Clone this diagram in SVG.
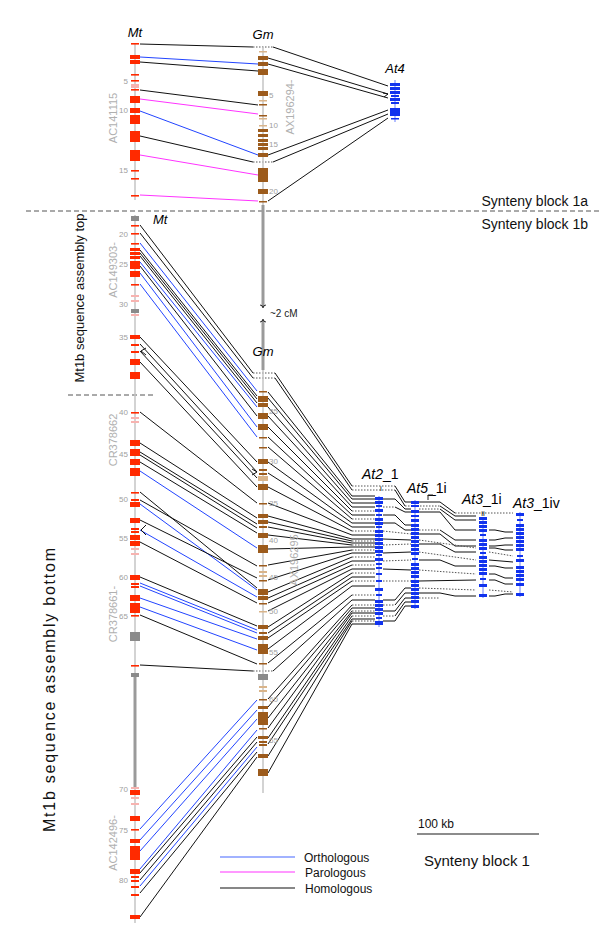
<svg xmlns="http://www.w3.org/2000/svg" width="600" height="946" viewBox="0 0 600 946">
<style>
text{font-family:"Liberation Sans",Arial,sans-serif}
.ax{stroke:#c4c4c4;stroke-width:1.5;fill:none}
.gap{stroke:#9a9a9a;stroke-width:3;fill:none}
.m{fill:#ff2a00}.mp{fill:#f7b3b0}.mg{fill:#8a8a8a}
.g{fill:#9c5b1c}.gp{fill:#d9b48a}
.a{fill:#1133ee}
.o{stroke:#2244ff;stroke-width:1;fill:none}
.p{stroke:#ff33ff;stroke-width:1;fill:none}
.h{stroke:#111;stroke-width:1;fill:none}
.d{stroke:#555;stroke-width:1;stroke-dasharray:1.5,1.5;fill:none}
.lab{font-size:13px;font-style:italic}
.atl{font-size:14px;font-style:italic}
.num{font-size:8px;fill:#a0a0a0}
.cl{font-size:11px;fill:#b0b0b0}
.big{font-size:14px;fill:#111}
.leg{font-size:12px;fill:#111}
</style>

<g id="dividers">
<line x1="26" y1="211" x2="600" y2="211" stroke="#555" stroke-dasharray="5,3"/>
<line x1="68" y1="395" x2="153" y2="395" stroke="#555" stroke-dasharray="5,3"/>
<text x="588" y="206" class="big" text-anchor="end">Synteny block 1a</text>
<text x="588" y="229" class="big" text-anchor="end">Synteny block 1b</text>
<text transform="translate(84,298) rotate(-90)" class="big" text-anchor="middle" style="font-size:13px">Mt1b sequence assembly top</text>
<text transform="translate(55,690) rotate(-90)" class="big" text-anchor="middle" style="font-size:16px" textLength="284" lengthAdjust="spacing">Mt1b sequence assembly bottom</text>
</g>

<g id="connectors">
<!-- block 1a Mt-Gm -->
<line class="h" x1="140" y1="44" x2="253" y2="47"/>
<line class="d" x1="253" y1="47" x2="273" y2="47"/>
<line class="o" x1="140" y1="57" x2="258" y2="64"/>
<line class="h" x1="140" y1="62" x2="258" y2="71"/>
<line class="h" x1="140" y1="90" x2="258" y2="105"/>
<line class="p" x1="140" y1="99" x2="258" y2="114"/>
<line class="o" x1="140" y1="111" x2="258" y2="155"/>
<line class="h" x1="140" y1="136" x2="253" y2="162"/>
<line class="d" x1="253" y1="162" x2="273" y2="162"/>
<line class="p" x1="140" y1="155" x2="258" y2="175"/>
<line class="p" x1="140" y1="195" x2="258" y2="201"/>
<!-- Gm-At4 -->
<line class="h" x1="273" y1="47" x2="388" y2="86"/>
<line class="h" x1="268" y1="58" x2="388" y2="94"/>
<line class="h" x1="268" y1="64" x2="388" y2="98"/>
<polyline class="h" points="383,93 388,94 384,97"/>
<line class="h" x1="268" y1="155" x2="388" y2="110"/>
<line class="h" x1="273" y1="162" x2="388" y2="114"/>
<line class="h" x1="268" y1="201" x2="388" y2="118"/>
<!-- block 1b Mt-Gm top -->
<line class="h" x1="140" y1="225" x2="253" y2="373"/>
<line class="h" x1="140" y1="233" x2="253" y2="378"/>
<line class="d" x1="253" y1="373" x2="275" y2="373"/>
<line class="d" x1="253" y1="378" x2="275" y2="378"/>
<line class="o" x1="140" y1="243" x2="257" y2="391"/>
<line class="h" x1="140" y1="250" x2="257" y2="396"/>
<line class="h" x1="140" y1="253" x2="257" y2="399"/>
<line class="h" x1="140" y1="256" x2="257" y2="403"/>
<line class="o" x1="140" y1="262" x2="257" y2="407"/>
<line class="h" x1="140" y1="266" x2="257" y2="416"/>
<line class="o" x1="140" y1="273" x2="257" y2="427"/>
<line class="o" x1="140" y1="284" x2="257" y2="437"/>
<line class="h" x1="140" y1="337" x2="257" y2="462"/>
<line class="h" x1="140" y1="344" x2="257" y2="472"/>
<polyline class="h" points="252,469 257,472 252,475"/>
<line class="h" x1="140" y1="351" x2="257" y2="478"/>
<polyline class="h" points="146,348 141,351 146,355"/>
<line class="h" x1="140" y1="362" x2="257" y2="487"/>
<!-- CR378662 / CR378661 -->
<line class="h" x1="140" y1="412" x2="257" y2="503"/>
<line class="h" x1="140" y1="443" x2="257" y2="518"/>
<line class="h" x1="140" y1="452" x2="257" y2="524"/>
<line class="h" x1="140" y1="455" x2="257" y2="528"/>
<line class="h" x1="140" y1="462" x2="257" y2="533"/>
<line class="o" x1="140" y1="471" x2="257" y2="548"/>
<line class="h" x1="140" y1="492" x2="257" y2="588"/>
<line class="h" x1="140" y1="500" x2="257" y2="566"/>
<line class="o" x1="140" y1="504" x2="257" y2="590"/>
<line class="h" x1="140" y1="520" x2="257" y2="578"/>
<line class="o" x1="140" y1="530" x2="257" y2="597"/>
<polyline class="h" points="146,525 141,530 146,535"/>
<line class="h" x1="140" y1="542" x2="257" y2="603"/>
<line class="h" x1="140" y1="577" x2="257" y2="626"/>
<line class="o" x1="140" y1="583" x2="257" y2="630"/>
<line class="o" x1="140" y1="586" x2="257" y2="633"/>
<line class="o" x1="140" y1="598" x2="257" y2="639"/>
<line class="o" x1="140" y1="607" x2="257" y2="650"/>
<line class="h" x1="140" y1="615" x2="257" y2="664"/>
<line class="h" x1="140" y1="665" x2="253" y2="671"/>
<line class="d" x1="253" y1="671" x2="273" y2="671"/>
<!-- AC142496 -->
<line class="o" x1="140" y1="829" x2="257" y2="700"/>
<line class="o" x1="140" y1="840" x2="257" y2="710"/>
<line class="o" x1="140" y1="851" x2="257" y2="719"/>
<line class="o" x1="140" y1="869" x2="257" y2="730"/>
<line class="h" x1="140" y1="873" x2="257" y2="737"/>
<line class="h" x1="140" y1="880" x2="257" y2="742"/>
<line class="o" x1="140" y1="886" x2="257" y2="747"/>
<line class="h" x1="140" y1="893" x2="257" y2="752"/>
<line class="h" x1="140" y1="917" x2="257" y2="757"/>
<!-- Gm - At2 -->
<polyline class="h" points="275,373 352,486"/><line class="d" x1="352" y1="486" x2="395" y2="486"/>
<polyline class="h" points="275,378 352,490"/><line class="d" x1="352" y1="490" x2="395" y2="490"/>
<polyline class="h" points="268,392 352,496 375,496"/>
<polyline class="h" points="268,398 352,499 375,499"/>
<polyline class="h" points="268,407 352,503 375,503"/>
<polyline class="h" points="268,416 352,507 375,507"/>
<polyline class="h" points="268,427 352,511"/><line class="d" x1="352" y1="511" x2="375" y2="511"/>
<polyline class="h" points="268,437 352,515 375,515"/>
<polyline class="h" points="268,447 352,519"/><line class="d" x1="352" y1="519" x2="375" y2="519"/>
<polyline class="h" points="268,462 352,523 375,523"/>
<polyline class="h" points="268,473 352,527 375,527"/>
<polyline class="h" points="268,487 352,531"/><line class="d" x1="352" y1="531" x2="375" y2="531"/>
<polyline class="h" points="268,503 352,535 375,535"/>
<polyline class="h" points="268,516 352,539 375,539"/>
<polyline class="h" points="268,522 352,541"/><line class="d" x1="352" y1="541" x2="375" y2="541"/>
<polyline class="h" points="268,527 352,543 375,543"/>
<polyline class="h" points="268,535 352,545"/><line class="d" x1="352" y1="545" x2="375" y2="545"/>
<polyline class="h" points="268,549 352,547 375,547"/>
<polyline class="h" points="268,565 352,550"/><line class="d" x1="352" y1="550" x2="375" y2="550"/>
<polyline class="h" points="268,580 352,553 375,553"/>
<polyline class="h" points="268,592 352,557"/><line class="d" x1="352" y1="557" x2="375" y2="557"/>
<polyline class="h" points="268,598 352,561 375,561"/>
<polyline class="h" points="268,603 352,565"/><line class="d" x1="352" y1="565" x2="375" y2="565"/>
<polyline class="h" points="268,611 352,569 375,569"/>
<polyline class="h" points="268,627 352,573"/><line class="d" x1="352" y1="573" x2="375" y2="573"/>
<polyline class="h" points="268,633 352,577 375,577"/>
<polyline class="h" points="268,638 352,581"/><line class="d" x1="352" y1="581" x2="375" y2="581"/>
<polyline class="h" points="268,649 352,586 375,586"/>
<polyline class="h" points="268,663 352,595"/><line class="d" x1="352" y1="595" x2="375" y2="595"/>
<polyline class="h" points="273,671 352,600 375,600"/>
<polyline class="h" points="268,699 352,605"/><line class="d" x1="352" y1="605" x2="375" y2="605"/>
<polyline class="h" points="268,707 352,608 375,608"/>
<polyline class="h" points="268,718 352,611"/><line class="d" x1="352" y1="611" x2="375" y2="611"/>
<polyline class="h" points="268,728 352,613 375,613"/>
<polyline class="h" points="268,738 352,616"/><line class="d" x1="352" y1="616" x2="375" y2="616"/>
<polyline class="h" points="268,744 352,619 375,619"/>
<polyline class="h" points="268,756 352,621"/><line class="d" x1="352" y1="621" x2="375" y2="621"/>
<polyline class="h" points="268,773 352,624 375,624"/>
<!-- ladders At2 -> At5 -> At3_1i -> At3_1iv -->
<polyline class="h" points="395,486 405,502 440,502 455,513"/><line class="d" x1="455" y1="513" x2="513" y2="513"/>
<polyline class="h" points="395,490 405,506"/><line class="d" x1="405" y1="506" x2="440" y2="506"/><polyline class="h" points="440,506 455,516 476,516"/>
<polyline class="h" points="383,499 395,499 405,509 411,509"/><line class="d" x1="419" y1="509" x2="440" y2="509"/><polyline class="h" points="440,509 455,520 476,520"/>
<line class="d" x1="383" y1="507" x2="395" y2="507"/><polyline class="h" points="395,507 405,512 411,512"/><polyline class="h" points="419,512 440,512 455,530 476,530"/><polyline class="h" points="489,530 495,530 505,532 513,532"/>
<polyline class="h" points="383,515 395,515 405,525 411,525"/>
<polyline class="h" points="383,523 395,523 405,530 411,530"/><line class="d" x1="419" y1="530" x2="440" y2="530"/><polyline class="h" points="440,530 455,540 476,540"/><polyline class="h" points="489,540 495,540 505,538 513,538"/>
<line class="d" x1="383" y1="531" x2="411" y2="534"/><polyline class="h" points="419,534 440,534 455,546 476,546"/><polyline class="h" points="489,546 495,546 505,545 513,545"/>
<polyline class="h" points="383,539 411,540"/><line class="d" x1="419" y1="540" x2="476" y2="548"/><polyline class="h" points="489,548 495,548 505,550 513,550"/>
<line class="d" x1="383" y1="545" x2="411" y2="544"/><polyline class="h" points="419,544 440,544 455,552 476,552"/><line class="d" x1="489" y1="552" x2="513" y2="556"/>
<polyline class="h" points="383,553 411,552"/><line class="d" x1="419" y1="552" x2="476" y2="560"/><polyline class="h" points="489,560 513,562"/>
<line class="d" x1="383" y1="561" x2="411" y2="560"/><polyline class="h" points="419,560 440,560 455,566 476,566"/><polyline class="h" points="489,566 495,566 505,568 513,568"/>
<polyline class="h" points="383,569 411,570"/><line class="d" x1="419" y1="570" x2="476" y2="574"/><polyline class="h" points="489,574 495,574 505,578 513,578"/>
<line class="d" x1="383" y1="581" x2="411" y2="581"/><polyline class="h" points="419,581 476,580"/><polyline class="h" points="489,580 495,580 505,584 513,584"/>
<polyline class="h" points="383,600 395,600 405,588 411,588"/><line class="d" x1="419" y1="588" x2="476" y2="590"/><line class="d" x1="489" y1="590" x2="513" y2="592"/>
<line class="d" x1="383" y1="605" x2="395" y2="605"/><polyline class="h" points="395,605 405,593 411,593"/><polyline class="h" points="419,593 440,593 455,596 476,596"/><polyline class="h" points="489,596 495,596 505,594 513,594"/>
<polyline class="h" points="383,611 395,611 405,598 411,598"/><line class="d" x1="419" y1="598" x2="440" y2="598"/>
<line class="d" x1="383" y1="616" x2="395" y2="616"/><polyline class="h" points="395,616 405,602 411,602"/>
<polyline class="h" points="383,621 395,621 405,606 411,606"/>
</g>

<g id="Mt">
<line class="ax" x1="135" y1="44" x2="135" y2="200"/>
<line class="ax" x1="135" y1="215" x2="135" y2="923"/>
<line class="gap" x1="135" y1="677" x2="135" y2="787"/>
<text x="135" y="37" class="lab" text-anchor="middle">Mt</text>
<text x="153" y="224" class="lab" text-anchor="start">Mt</text>
<g class="m">
<rect x="131" y="43" width="8" height="1.6"/><rect x="130" y="55" width="10" height="4"/><rect x="130" y="60" width="10" height="4"/>
<rect x="131" y="74" width="8" height="1.6"/><rect x="131" y="80" width="8" height="1.6"/><rect x="131" y="89" width="8" height="1.6"/>
<rect x="130" y="96" width="10" height="4"/><rect x="130" y="100" width="10" height="3"/><rect x="130" y="108" width="10" height="5"/>
<rect x="130" y="115" width="10" height="9"/><rect x="130" y="131" width="10" height="11"/><rect x="130" y="150" width="10" height="11"/>
<rect x="131" y="170" width="8" height="1.6"/><rect x="131" y="178" width="8" height="1.6"/><rect x="131" y="195" width="8" height="1.6"/>
<rect x="131" y="225" width="8" height="1.6"/><rect x="131" y="233" width="8" height="1.6"/><rect x="131" y="243" width="8" height="1.6"/>
<rect x="130" y="248" width="10" height="3"/><rect x="130" y="252" width="10" height="3"/><rect x="130" y="256" width="10" height="3"/>
<rect x="130" y="261" width="10" height="8"/><rect x="130" y="271" width="10" height="6"/><rect x="131" y="284" width="8" height="1.6"/>
<rect x="130" y="335" width="10" height="4"/><rect x="131" y="344" width="8" height="2"/><rect x="131" y="351" width="8" height="2"/>
<rect x="130" y="359" width="10" height="6"/><rect x="130" y="372" width="10" height="7"/>
<rect x="131" y="412" width="8" height="1.6"/><rect x="130" y="440" width="10" height="6"/><rect x="130" y="449" width="10" height="7"/>
<rect x="130" y="459" width="10" height="6"/><rect x="130" y="468" width="10" height="8"/><rect x="131" y="492" width="8" height="1.6"/>
<rect x="131" y="499" width="8" height="2"/><rect x="130" y="502" width="10" height="5"/><rect x="130" y="518" width="10" height="5"/>
<rect x="131" y="528" width="8" height="2"/><rect x="131" y="531" width="8" height="2"/><rect x="130" y="535" width="10" height="5"/>
<rect x="130" y="541" width="10" height="5"/><rect x="130" y="575" width="10" height="5"/><rect x="131" y="583" width="8" height="2"/>
<rect x="131" y="586" width="8" height="2"/><rect x="130" y="595" width="10" height="6"/><rect x="130" y="603" width="10" height="10"/>
<rect x="131" y="615" width="8" height="1.6"/><rect x="131" y="665" width="8" height="1.6"/>
<rect x="130" y="790" width="10" height="5"/><rect x="130" y="816" width="10" height="5"/><rect x="131" y="829" width="8" height="1.6"/>
<rect x="130" y="839" width="10" height="4"/><rect x="130" y="846" width="10" height="14"/><rect x="130" y="869" width="10" height="5"/>
<rect x="131" y="876" width="8" height="2"/><rect x="131" y="880" width="8" height="2"/><rect x="131" y="886" width="8" height="2"/>
<rect x="131" y="894" width="8" height="2"/><rect x="130" y="915" width="10" height="4"/>
</g>
<g class="mp">
<rect x="131" y="84" width="8" height="4"/><rect x="131" y="295" width="8" height="2"/><rect x="131" y="300" width="8" height="2"/>
<rect x="131" y="314" width="8" height="2"/><rect x="131" y="417" width="8" height="2"/><rect x="131" y="421" width="8" height="2"/>
<rect x="131" y="548" width="8" height="2"/><rect x="131" y="553" width="8" height="2"/><rect x="131" y="787" width="8" height="2"/>
<rect x="131" y="797" width="8" height="2"/><rect x="131" y="803" width="8" height="2"/>
</g>
<g class="mg">
<rect x="131" y="216" width="8" height="5"/><rect x="131" y="309" width="8" height="4"/><rect x="130" y="632" width="10" height="9"/><rect x="131" y="673" width="8" height="4"/>
</g>
<g class="num" text-anchor="end">
<text x="128" y="84">5</text><text x="128" y="113">10</text><text x="128" y="173">15</text><text x="128" y="237">20</text>
<text x="128" y="267">25</text><text x="128" y="307">30</text><text x="128" y="340">35</text><text x="128" y="415">40</text>
<text x="128" y="457">45</text><text x="128" y="502">50</text><text x="128" y="541">55</text><text x="128" y="580">60</text>
<text x="128" y="619">65</text><text x="128" y="792">70</text><text x="128" y="833">75</text><text x="128" y="883">80</text>
</g>
<text transform="translate(117,118) rotate(-90)" class="cl" text-anchor="middle">AC141115</text>
<text transform="translate(117,270) rotate(-90)" class="cl" text-anchor="middle">AC149303-</text>
<text transform="translate(117,440) rotate(-90)" class="cl" text-anchor="middle">CR378662</text>
<text transform="translate(117,614) rotate(-90)" class="cl" text-anchor="middle">CR378661-</text>
<text transform="translate(117,843) rotate(-90)" class="cl" text-anchor="middle">AC142496-</text>
</g>

<g id="Gm">
<line class="ax" x1="263" y1="47" x2="263" y2="793"/>
<line class="gap" x1="263" y1="205" x2="263" y2="370"/>
<line x1="263" y1="307" x2="263" y2="320" stroke="#fff" stroke-width="4"/>
<path d="M260,305 q3,0 3,3 M266,305 q-3,0 -3,3 M260,322 q3,0 3,-3 M266,322 q-3,0 -3,-3" stroke="#333" stroke-width="1" fill="none"/>
<text x="270" y="317" style="font-size:10px" fill="#222">~2 cM</text>
<text x="263" y="39" class="lab" text-anchor="middle">Gm</text>
<text x="263" y="356" class="lab" text-anchor="middle">Gm</text>
<g class="g">
<rect x="258" y="56" width="10" height="4"/><rect x="258" y="62" width="10" height="4"/><rect x="258" y="69" width="10" height="6"/>
<rect x="258" y="91" width="10" height="5"/><rect x="259" y="104" width="8" height="1.5"/><rect x="259" y="115" width="8" height="1.5"/>
<rect x="258" y="129" width="10" height="3"/><rect x="258" y="134" width="10" height="3"/><rect x="258" y="139" width="10" height="3"/>
<rect x="258" y="143" width="10" height="3"/><rect x="258" y="147" width="10" height="3"/><rect x="258" y="153" width="10" height="4"/>
<rect x="258" y="168" width="10" height="14"/><rect x="258" y="189" width="10" height="5"/><rect x="259" y="201" width="8" height="1.5"/>
<rect x="259" y="391" width="8" height="1.5"/><rect x="258" y="396" width="10" height="6"/><rect x="258" y="403" width="10" height="4"/>
<rect x="258" y="413" width="10" height="6"/><rect x="258" y="424" width="10" height="6"/><rect x="259" y="437" width="8" height="1.5"/>
<rect x="259" y="447" width="8" height="1.5"/><rect x="258" y="459" width="10" height="5"/><rect x="259" y="469" width="8" height="2"/>
<rect x="259" y="473" width="8" height="2"/><rect x="258" y="484" width="10" height="6"/><rect x="259" y="503" width="8" height="1.5"/>
<rect x="258" y="514" width="10" height="4"/><rect x="258" y="520" width="10" height="4"/><rect x="259" y="526" width="8" height="2"/>
<rect x="258" y="533" width="10" height="5"/><rect x="258" y="545" width="10" height="8"/><rect x="259" y="565" width="8" height="1.5"/>
<rect x="259" y="580" width="8" height="1.5"/><rect x="258" y="589" width="10" height="6"/><rect x="258" y="596" width="10" height="4"/>
<rect x="259" y="603" width="8" height="1.5"/><rect x="258" y="625" width="10" height="4"/><rect x="259" y="632" width="8" height="2"/>
<rect x="258" y="636" width="10" height="4"/><rect x="258" y="644" width="10" height="10"/><rect x="259" y="663" width="8" height="1.5"/>
<rect x="259" y="699" width="8" height="1.5"/><rect x="258" y="706" width="10" height="3"/><rect x="258" y="712" width="10" height="13"/>
<rect x="259" y="728" width="8" height="1.5"/><rect x="258" y="736" width="10" height="3"/><rect x="259" y="741" width="8" height="2"/>
<rect x="259" y="744" width="8" height="2"/><rect x="258" y="754" width="10" height="4"/><rect x="258" y="769" width="10" height="7"/>
</g>
<g class="gp">
<rect x="259" y="51" width="8" height="1.5"/><rect x="259" y="100" width="8" height="1.5"/><rect x="259" y="118" width="8" height="1.5"/>
<rect x="259" y="125" width="8" height="1.5"/><rect x="258" y="476" width="10" height="5"/><rect x="259" y="571" width="8" height="2"/>
<rect x="259" y="575" width="8" height="2"/><rect x="259" y="611" width="8" height="1.5"/><rect x="259" y="686" width="8" height="2"/><rect x="259" y="690" width="8" height="2"/>
</g>
<rect x="258" y="674" width="10" height="6" fill="#8a8a8a"/>
<g class="num">
<text x="269" y="98">5</text><text x="269" y="128">10</text><text x="269" y="147">15</text><text x="269" y="194">20</text>
<text x="269" y="414">25</text><text x="269" y="464">30</text><text x="269" y="506">35</text><text x="269" y="543">40</text>
<text x="269" y="580">45</text><text x="269" y="614">50</text><text x="269" y="655">55</text><text x="269" y="702">60</text><text x="269" y="743">65</text>
</g>
<text transform="translate(294,107) rotate(-90)" class="cl" text-anchor="middle">AX196294-</text>
<text transform="translate(298,560) rotate(-90)" class="cl" text-anchor="middle">AX196295</text>
</g>

<g id="At4">
<line class="ax" x1="395" y1="80" x2="395" y2="122" style="stroke:#9aa8ff"/>
<text x="395" y="73" class="lab" text-anchor="middle">At4</text>
<g class="a">
<rect x="390" y="83" width="10" height="3"/><rect x="390" y="87" width="10" height="3"/><rect x="390" y="91" width="10" height="3"/>
<rect x="391" y="95" width="8" height="2"/><rect x="390" y="98" width="10" height="3"/><rect x="391" y="102" width="8" height="2"/>
<rect x="390" y="108" width="10" height="8"/><rect x="391" y="118" width="8" height="1.5"/>
</g>
</g>

<g id="At2_1">
<line class="ax" x1="379" y1="496" x2="379" y2="627" style="stroke:#9aa8ff"/>
<text x="362" y="479" class="atl">At2<tspan style="font-style:normal">_1</tspan></text>
<text x="381" y="491" style="font-size:8px" text-anchor="middle">i</text>
<g class="a">
<rect x="375" y="497" width="8" height="3"/><rect x="375" y="501" width="8" height="3"/><rect x="376" y="505" width="6" height="2"/>
<rect x="375" y="509" width="8" height="3"/><rect x="376" y="514" width="6" height="2"/><rect x="375" y="518" width="8" height="3"/>
<rect x="375" y="522" width="8" height="3"/><rect x="376" y="526" width="6" height="2"/><rect x="375" y="530" width="8" height="3"/>
<rect x="375" y="534" width="8" height="3"/><rect x="375" y="538" width="8" height="3"/><rect x="375" y="542" width="8" height="3"/>
<rect x="375" y="546" width="8" height="3"/><rect x="375" y="550" width="8" height="3"/><rect x="376" y="554" width="6" height="2"/>
<rect x="375" y="558" width="8" height="3"/><rect x="376" y="563" width="6" height="2"/><rect x="376" y="567" width="6" height="2"/>
<rect x="376" y="573" width="6" height="2"/><rect x="376" y="580" width="6" height="2"/><rect x="375" y="588" width="8" height="3"/>
<rect x="376" y="594" width="6" height="2"/><rect x="375" y="600" width="8" height="3"/><rect x="375" y="604" width="8" height="3"/>
<rect x="375" y="608" width="8" height="3"/><rect x="375" y="612" width="8" height="3"/><rect x="376" y="617" width="6" height="2"/>
<rect x="375" y="621" width="8" height="4"/>
</g>
</g>

<g id="At5_1i">
<line class="ax" x1="415" y1="500" x2="415" y2="609" style="stroke:#9aa8ff"/>
<text x="407" y="493" class="atl">At5<tspan style="font-style:normal">_1i</tspan></text>
<path d="M428,500 v-5 h5" stroke="#222" fill="none"/>
<g class="a">
<rect x="411" y="501" width="8" height="3"/><rect x="411" y="505" width="8" height="2"/><rect x="411" y="510" width="8" height="3"/>
<rect x="411" y="515" width="8" height="2"/><rect x="411" y="519" width="8" height="3"/><rect x="411" y="524" width="8" height="3"/>
<rect x="411" y="528" width="8" height="3"/><rect x="411" y="532" width="8" height="3"/><rect x="411" y="536" width="8" height="3"/>
<rect x="411" y="540" width="8" height="3"/><rect x="411" y="544" width="8" height="3"/><rect x="411" y="548" width="8" height="3"/>
<rect x="411" y="552" width="8" height="3"/><rect x="412" y="558" width="6" height="2"/><rect x="411" y="563" width="8" height="3"/>
<rect x="411" y="567" width="8" height="3"/><rect x="411" y="571" width="8" height="3"/><rect x="411" y="575" width="8" height="3"/>
<rect x="411" y="580" width="8" height="3"/><rect x="411" y="584" width="8" height="3"/><rect x="411" y="588" width="8" height="3"/>
<rect x="411" y="592" width="8" height="3"/><rect x="411" y="596" width="8" height="3"/><rect x="411" y="600" width="8" height="3"/>
<rect x="411" y="605" width="8" height="3"/>
</g>
</g>

<g id="At3_1i">
<line class="ax" x1="483" y1="518" x2="483" y2="598" style="stroke:#9aa8ff"/>
<text x="462" y="504" class="atl">At3<tspan style="font-style:normal">_1i</tspan></text>
<text x="483" y="516" style="font-size:8px" text-anchor="middle">ii</text>
<g class="a">
<rect x="479" y="517" width="8" height="3"/><rect x="479" y="521" width="8" height="3"/><rect x="479" y="525" width="8" height="3"/>
<rect x="479" y="529" width="8" height="3"/><rect x="480" y="534" width="6" height="2"/><rect x="479" y="539" width="8" height="3"/>
<rect x="479" y="543" width="8" height="3"/><rect x="479" y="547" width="8" height="3"/><rect x="480" y="552" width="6" height="2"/>
<rect x="479" y="556" width="8" height="3"/><rect x="479" y="560" width="8" height="3"/><rect x="479" y="564" width="8" height="3"/>
<rect x="479" y="568" width="8" height="3"/><rect x="479" y="572" width="8" height="3"/><rect x="480" y="578" width="6" height="2"/>
<rect x="479" y="584" width="8" height="3"/><rect x="479" y="594" width="8" height="3"/>
</g>
</g>

<g id="At3_1iv">
<line class="ax" x1="520" y1="512" x2="520" y2="597" style="stroke:#9aa8ff"/>
<text x="513" y="508" class="atl">At3<tspan style="font-style:normal">_1iv</tspan></text>
<g class="a">
<rect x="516" y="513" width="8" height="3"/><rect x="517" y="519" width="6" height="2"/><rect x="516" y="524" width="8" height="3"/>
<rect x="516" y="528" width="8" height="3"/><rect x="516" y="532" width="8" height="3"/><rect x="516" y="536" width="8" height="3"/>
<rect x="516" y="540" width="8" height="3"/><rect x="516" y="544" width="8" height="3"/><rect x="516" y="548" width="8" height="3"/>
<rect x="517" y="555" width="6" height="2"/><rect x="516" y="559" width="8" height="3"/><rect x="516" y="566" width="8" height="3"/>
<rect x="516" y="570" width="8" height="3"/><rect x="516" y="574" width="8" height="3"/><rect x="516" y="578" width="8" height="3"/>
<rect x="516" y="583" width="8" height="3"/><rect x="516" y="593" width="8" height="3"/>
</g>
</g>

<g id="scale">
<text x="418" y="828" class="leg" style="font-size:12px">100 kb</text>
<line x1="417" y1="834" x2="539" y2="834" stroke="#666" stroke-width="1.5"/>
<text x="424" y="866" class="big" style="font-size:15px">Synteny block 1</text>
</g>

<g id="legend">
<line x1="220" y1="857" x2="295" y2="857" stroke="#4466ff" stroke-width="1.2"/>
<line x1="220" y1="872" x2="295" y2="872" stroke="#ff33ff" stroke-width="1.2"/>
<line x1="220" y1="888" x2="295" y2="888" stroke="#111" stroke-width="1.2"/>
<text x="304" y="862" class="leg">Orthologous</text>
<text x="305" y="877" class="leg">Parologous</text>
<text x="305" y="893" class="leg">Homologous</text>
</g>
</svg>
